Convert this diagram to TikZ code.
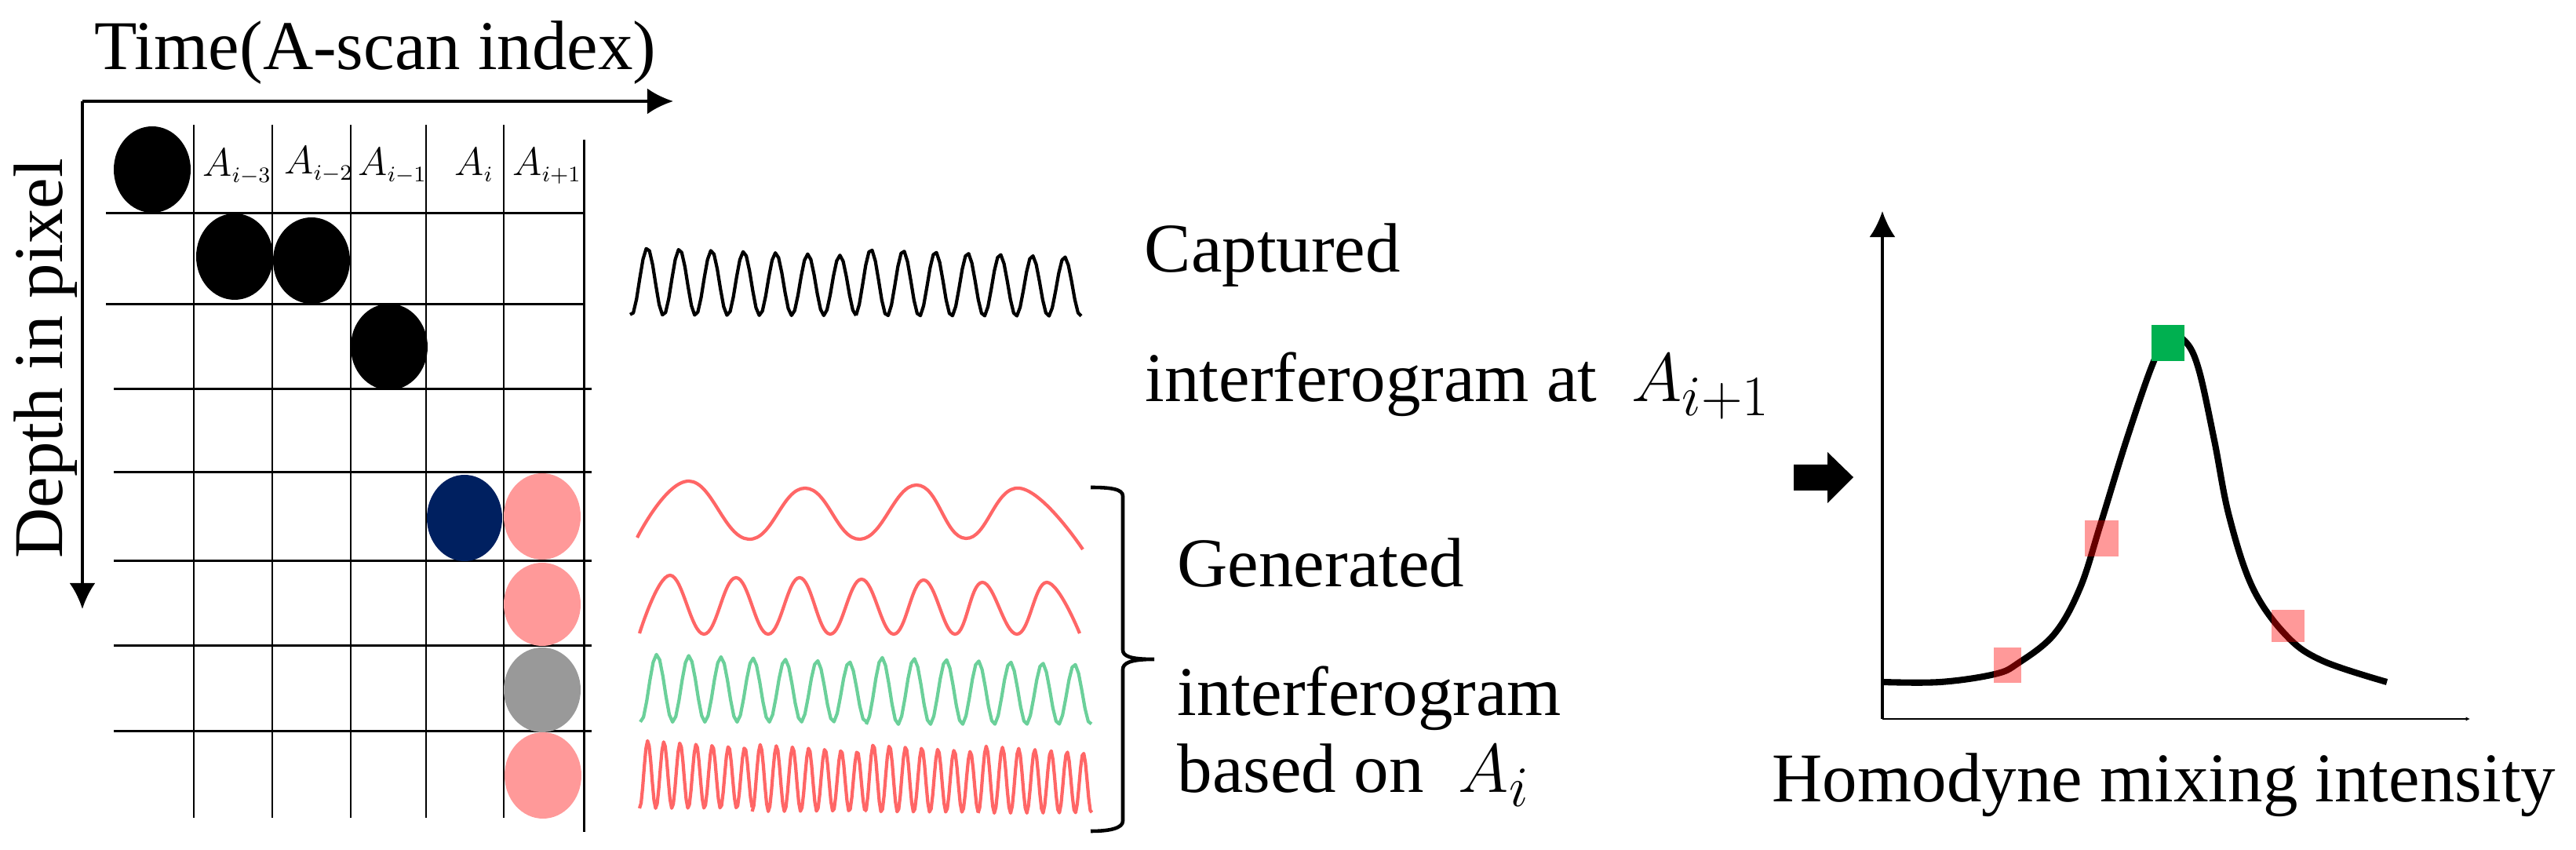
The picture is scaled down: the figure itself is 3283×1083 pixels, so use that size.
\documentclass[tikz,border=0pt]{standalone}
\usepackage{fontspec}
\setmainfont{Liberation Serif}
\usetikzlibrary{arrows.meta}
\DeclareMathSizes{25.3}{24.88}{20.74}{14.4}
\DeclareMathSizes{13}{14.4}{8}{6}

\newcommand{\wavepiece}[8]{%
	\draw[wave,#1] plot[domain=#2:#3,samples=71] (\x,{#8+(#6+(#7-#6)*(\x-#2)/(#3-#2)-#8)*(0.5+0.5*cos((\x-#4)/#5*360))});}

\tikzset{
	bigtext/.style={anchor=base west,inner sep=0pt,font=\fontsize{25.3}{30}\selectfont},
	indextext/.style={anchor=base west,inner sep=0pt,font=\fontsize{13}{15}\selectfont},
	gridline/.style={line width=0.85pt},
	axisline/.style={line width=1.15pt,-{Latex[length=9.4pt,width=9.4pt]}},
	wave/.style={line width=1.2pt,line join=round},
	redwave/.style={draw=myred},
	greenwave/.style={draw=mygreen},
	blackwave/.style={draw=black},
	marker/.style={draw=none,fill=red,fill opacity=0.4}
}
\definecolor{myred}{HTML}{FF6666}
\definecolor{mygreen}{HTML}{6BD09A}
\definecolor{mypink}{HTML}{FF9999}
\definecolor{mygray}{HTML}{999999}
\definecolor{mynavy}{HTML}{002060}
\definecolor{mymark}{HTML}{00B050}

\begin{document}
\begin{tikzpicture}[x=0.01cm,y=-0.01cm]
	\useasboundingbox (0,0) rectangle (3283,1083);

	% axes of the grid
	\coordinate (gridorigin) at (105,129);
	\coordinate (timeend) at (858,129);
	\coordinate (depthend) at (105,776);
	\draw[axisline] (gridorigin) -- (timeend);
	\draw[axisline] (gridorigin) -- (depthend);
	\node[bigtext] (timelabel) at (120,89) {Time(A-scan index)};
	\node[bigtext,rotate=90] (depthlabel) at (79,712) {Depth in pixel};

	% grid
	\foreach \xpos in {247,347,447,543,642}
		\draw[gridline] (\xpos,159) -- (\xpos,1042);
	\draw[gridline] (744,178) -- (744,1060);
	\foreach \ypos in {272,388}
		\draw[gridline] (135,\ypos) -- (744,\ypos);
	\foreach \ypos in {496,602,715,823,932}
		\draw[gridline] (145,\ypos) -- (754,\ypos);

	% column labels
	\node[indextext] (colthree) at (258,225) {$A_{i-3}$};
	\node[indextext] (coltwo) at (362,222) {$A_{i-2}$};
	\node[indextext] (colone) at (456,224) {$A_{i-1}$};
	\node[indextext] (colzero) at (579,224) {$A_{i}$};
	\node[indextext] (colnext) at (653,224) {$A_{i+1}$};

	% spots
	\fill (194,216) ellipse [x radius=49,y radius=55];
	\fill (299,327) ellipse [x radius=49,y radius=55];
	\fill (397,332) ellipse [x radius=49,y radius=55];
	\fill (496,442) ellipse [x radius=49,y radius=55];
	\fill[mynavy] (592,660) ellipse [x radius=48,y radius=55];
	\fill[mypink] (691,658) ellipse [x radius=49,y radius=55];
	\fill[mypink] (691,770) ellipse [x radius=49,y radius=53];
	\fill[mygray] (691,879) ellipse [x radius=49,y radius=54];
	\fill[mypink] (692,988) ellipse [x radius=49,y radius=55];

	% captured wave
	\wavepiece{blackwave}{803}{1091}{825}{40.9}{315}{326}{402}
	\wavepiece{blackwave}{1091}{1378}{1110}{41.1}{317}{328}{403}
	\node[bigtext] (captured) at (1458,347) {Captured};
	\node[bigtext] (capturedtwo) at (1459,512) {interferogram at\ \ $A_{i+1}$};

	% generated waves
	\draw[wave,redwave] plot[smooth,tension=0.75] coordinates {(812,685) (878,613) (954,687) (1026,622) (1096,687) (1168,618) (1231,686) (1299,622) (1380,700)};
	\draw[wave,redwave] plot[smooth,tension=0.7] coordinates {(815,807) (854,733) (897,808) (938,736) (979,808) (1019,736) (1058,808) (1098,738) (1139,808) (1177,739) (1217,808) (1252,742) (1296,808) (1334,742) (1376,807)};
	\wavepiece{greenwave}{816}{1104}{837}{40.9}{833}{844}{920}
	\wavepiece{greenwave}{1104}{1391}{1124}{40.9}{837}{847}{923}
	\wavepiece{redwave}{815}{958.6}{825.5}{20.6}{943}{953}{1030}
	\wavepiece{redwave}{958.6}{1102}{969}{20.6}{948}{958}{1034}
	\wavepiece{redwave}{1102}{1246.5}{1113}{20.6}{948}{958}{1035}
	\wavepiece{redwave}{1246.5}{1391.6}{1257}{20.6}{950}{960}{1036}

	% brace
	\draw[line width=1.3pt] (1390,621) .. controls (1415,621) and (1431,623) .. (1431,632) -- (1431,828) .. controls (1431,836) and (1440,840) .. (1471,840) .. controls (1440,840) and (1431,845) .. (1431,853) -- (1431,1046) .. controls (1431,1055) and (1415,1059) .. (1390,1059);
	\node[bigtext] (generated) at (1500,748) {Generated};
	\node[bigtext] (generatedtwo) at (1500,912) {interferogram};
	\node[bigtext] (generatedthree) at (1500,1010) {based on\ \ $A_{i}$};

	% fat arrow
	\fill (2286,592) -- (2329,592) -- (2329,576) -- (2362,608) -- (2329,641) -- (2329,625) -- (2286,625) -- cycle;

	% chart
	\coordinate (chartorigin) at (2399,916);
	\coordinate (intensityend) at (2399,269);
	\coordinate (positionend) at (3148,916);
	\draw[line width=0.9pt,-{Latex[length=9.4pt,width=9.4pt]}] (chartorigin) -- (intensityend);
	\draw[line width=0.8pt,-{Latex[length=1.5pt,width=1.5pt]}] (chartorigin) -- (positionend);
	\draw[line width=2.3pt] plot[smooth,tension=0.6] coordinates {(2399,869) (2473,869) (2542,859) (2572,845) (2618,808) (2651,749) (2677,668) (2710,561) (2743,465) (2763,428) (2785,435) (2802,470) (2822,561) (2841,658) (2871,749) (2914,810) (2960,842) (3042,869)};
	\fill[marker] (2541,825) rectangle (2576,870);
	\fill[marker] (2657,663) rectangle (2700,709);
	\fill[marker] (2895,777) rectangle (2937,818);
	\fill[mymark] (2742,414) rectangle (2784,460);
	\node[bigtext] (chartlabel) at (2258,1022) {Homodyne mixing intensity};
\end{tikzpicture}
\end{document}
